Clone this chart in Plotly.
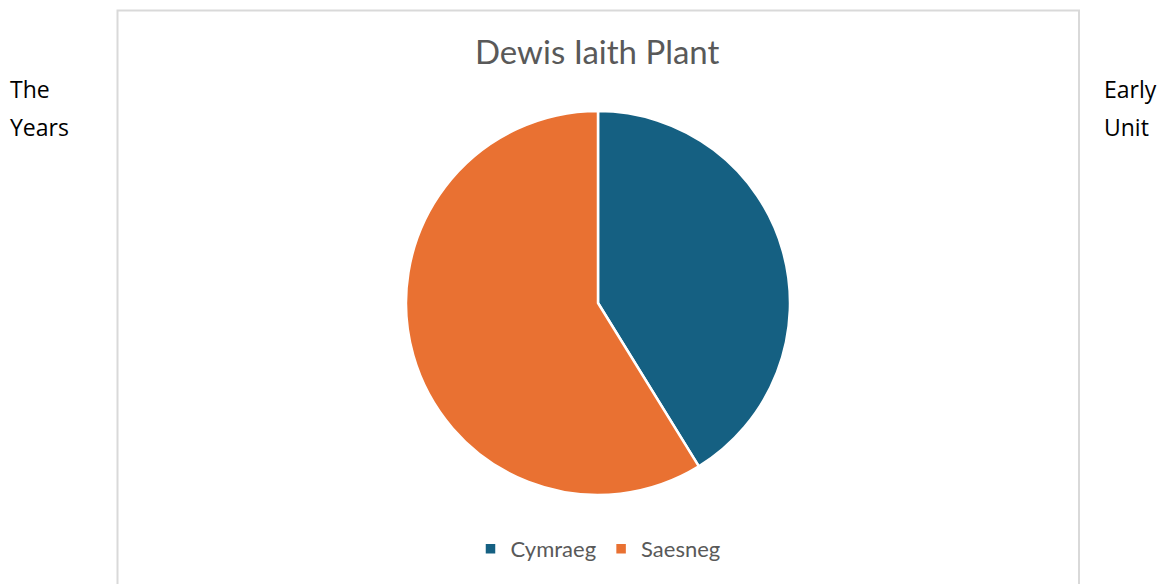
import plotly.graph_objects as go

labels = ["Cymraeg", "Saesneg"]
values = [41.2, 58.8]
colors = ["#156082", "#E97132"]
title_text = "Dewis Iaith Plant"
left_lines = ["The", "Years"]
right_lines = ["Early", "Unit"]

# page body has an 8px margin; work in reference pixels and shift
OFF = 8
W, H = 1168 - OFF, 584 - OFF


def px(x):
    return (x - OFF) / W


def py(y):
    return 1 - (y - OFF) / H


fig = go.Figure()
fig.add_trace(go.Pie(
    labels=labels, values=values, sort=False, direction="clockwise", rotation=0,
    marker=dict(colors=colors, line=dict(color="white", width=2.5)),
    textinfo="none", hoverinfo="label+percent",
    domain=dict(x=[px(406), px(790)], y=[py(496), py(110)]),
))

fig.add_shape(type="rect", xref="paper", yref="paper",
              x0=px(117.5), x1=px(1079), y0=-0.05, y1=py(10.5),
              line=dict(color="#D9D9D9", width=2), fillcolor="rgba(0,0,0,0)")

fig.add_annotation(text=title_text, xref="paper", yref="paper", x=px(597), y=py(51),
                   showarrow=False, xanchor="center", yanchor="middle",
                   font=dict(family="Lato", size=33, color="#595959"))

for i, t in enumerate(left_lines):
    fig.add_annotation(text=t, xref="paper", yref="paper", x=px(8), y=py(89 + 38 * i),
                       showarrow=False, xanchor="left", yanchor="middle",
                       font=dict(family="Open Sans", size=23, color="#000000"))
for i, t in enumerate(right_lines):
    fig.add_annotation(text=t, xref="paper", yref="paper", x=px(1102), y=py(89 + 38 * i),
                       showarrow=False, xanchor="left", yanchor="middle",
                       font=dict(family="Open Sans", size=23, color="#000000"))

fig.update_layout(
    width=W, height=H,
    margin=dict(l=0, r=0, t=0, b=0),
    paper_bgcolor="white", plot_bgcolor="white",
    showlegend=True,
    legend=dict(orientation="h", x=px(598), xanchor="center", y=py(549), yanchor="middle",
                font=dict(family="Lato", size=22, color="#595959"), itemwidth=30,
                tracegroupgap=0),
)

fig.write_html("out.html")
